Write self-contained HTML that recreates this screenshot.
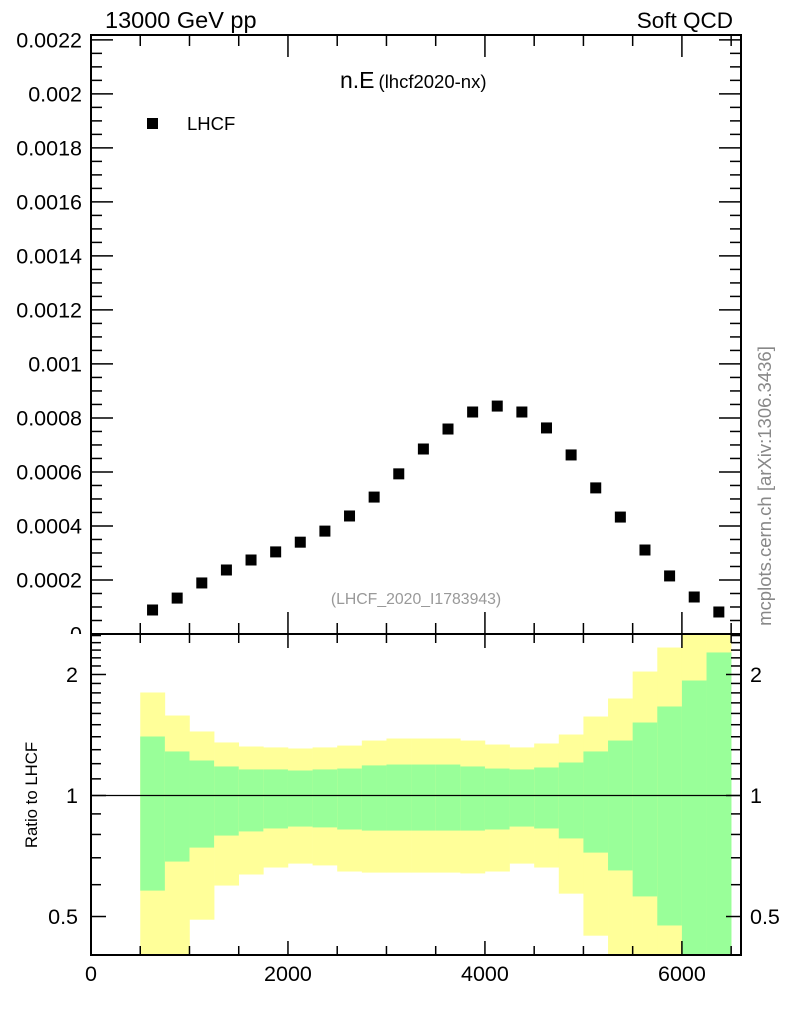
<!DOCTYPE html>
<html><head><meta charset="utf-8"><style>
body{margin:0;background:#fff;}
svg{display:block;font-family:"Liberation Sans",Arial,sans-serif;}
</style></head><body>
<svg id="chart" width="786" height="1024" viewBox="0 0 786 1024" xmlns="http://www.w3.org/2000/svg">
<defs>
<clipPath id="mainClip"><rect x="91" y="35" width="650" height="599"/></clipPath>
<clipPath id="ratioClip"><rect x="91" y="634" width="650" height="321"/></clipPath>
<clipPath id="labelClip"><rect x="0" y="0" width="91" height="634"/></clipPath>
</defs>
<g id="bands" clip-path="url(#ratioClip)"></g>
<g id="marks" clip-path="url(#mainClip)"></g>
<g id="axes"></g>
<text x="105" y="28" font-size="23.5">13000 GeV pp</text>
<text x="733" y="28" font-size="22.5" text-anchor="end">Soft QCD</text>
<text x="340" y="88" font-size="23">n.E<tspan font-size="18.5" dx="4">(lhcf2020-nx)</tspan></text>
<rect x="147" y="118" width="11" height="11" fill="#000"/>
<text x="187" y="130" font-size="18.5">LHCF</text>
<text x="416" y="604" font-size="15.8" fill="#999" text-anchor="middle">(LHCF_2020_I1783943)</text>
<text transform="translate(771,486) rotate(-90)" font-size="18.5" fill="#888" text-anchor="middle">mcplots.cern.ch [arXiv:1306.3436]</text>
<text transform="translate(37,795) rotate(-90)" font-size="16.8" text-anchor="middle">Ratio to LHCF</text>
</svg>
<script>
const binEdgesLow = [500,750,1000,1250,1500,1750,2000,2250,2500,2750,3000,3250,3500,3750,4000,4250,4500,4750,5000,5250,5500,5750,6000,6250];
const binWidth = 250;
const values = [0.0000889,0.000133,0.000189,0.000237,0.000274,0.000304,0.00034,0.000381,0.000437,0.000507,0.000593,0.000685,0.000759,0.000822,0.000844,0.000822,0.000763,0.000663,0.000541,0.000433,0.000311,0.000215,0.000137,0.0000815];
const yellowTop = [1.804,1.581,1.443,1.355,1.324,1.317,1.309,1.317,1.331,1.370,1.386,1.386,1.386,1.370,1.339,1.317,1.347,1.418,1.572,1.743,2.034,2.334,2.7,2.7];
const greenTop = [1.402,1.287,1.222,1.181,1.161,1.161,1.154,1.161,1.167,1.188,1.194,1.194,1.194,1.181,1.167,1.161,1.174,1.208,1.287,1.370,1.519,1.665,1.932,2.269];
const greenBot = [0.580,0.685,0.742,0.795,0.814,0.828,0.837,0.833,0.823,0.818,0.818,0.818,0.818,0.818,0.823,0.837,0.828,0.782,0.721,0.651,0.561,0.475,0.3,0.3];
const yellowBot = [0.3,0.3,0.491,0.597,0.636,0.662,0.677,0.670,0.647,0.643,0.643,0.643,0.643,0.640,0.647,0.677,0.662,0.570,0.448,0.3,0.3,0.3,0.3,0.3];
const xTickLabels = ["0","2000","4000","6000"];
const yTickLabels = ["0","0.0002","0.0004","0.0006","0.0008","0.001","0.0012","0.0014","0.0016","0.0018","0.002","0.0022"];
const ratioTickLabels = ["0.5","1","2"];

const NS="http://www.w3.org/2000/svg";
const L=91,R=741,T=35,MB=634,RB=955;
const XMAX=6600, YMAX=0.002218;
const sx=v=>L+v/XMAX*(R-L);
const sy=v=>MB-v/YMAX*(MB-T);
const sr=v=>795.5-Math.log10(v)*402;
function mk(tag,attrs,parent){const e=document.createElementNS(NS,tag);for(const k in attrs)e.setAttribute(k,attrs[k]);parent.appendChild(e);return e;}
const bands=document.getElementById('bands'),marks=document.getElementById('marks'),axes=document.getElementById('axes');

binEdgesLow.forEach((lo,i)=>{
  const x0=sx(lo),x1=sx(lo+binWidth);
  const y=mk('rect',{x:x0,y:sr(yellowTop[i]),width:x1-x0+0.3,height:sr(yellowBot[i])-sr(yellowTop[i]),fill:'#ffff99'},bands);
  
  
  const g=mk('rect',{x:x0,y:sr(greenTop[i]),width:x1-x0+0.3,height:sr(greenBot[i])-sr(greenTop[i]),fill:'#99ff99'},bands);
  
  
  const m=mk('rect',{x:sx(lo+binWidth/2)-5.5,y:sy(values[i])-5.5,width:11,height:11,fill:'#000'},marks);
  
  
});
mk('line',{x1:L,x2:R,y1:sr(1),y2:sr(1),stroke:'#000','stroke-width':1.2},axes);

mk('rect',{x:L,y:T,width:R-L,height:RB-T,fill:'none',stroke:'#000','stroke-width':2},axes);
mk('line',{x1:L,x2:R,y1:MB,y2:MB,stroke:'#000','stroke-width':2},axes);

for(let v=0;v<=XMAX;v+=500){
  const x=sx(v),maj=v%2000===0;
  const len=maj?22:11;
  mk('line',{x1:x,x2:x,y1:T,y2:T+len,stroke:'#000','stroke-width':1.5},axes);
  mk('line',{x1:x,x2:x,y1:MB,y2:MB-len,stroke:'#000','stroke-width':1.5},axes);
  mk('line',{x1:x,x2:x,y1:MB,y2:MB+(maj?14:9),stroke:'#000','stroke-width':1.5},axes);
  mk('line',{x1:x,x2:x,y1:RB,y2:RB-(maj?14:9),stroke:'#000','stroke-width':1.5},axes);
}
xTickLabels.forEach((s,i)=>{
  const t=mk('text',{x:sx(i*2000),y:981,'font-size':21.5,'text-anchor':'middle'},axes);t.textContent=s;
  
  
});
for(let k=0;k<=44;k++){
  const v=k*0.00005,y=sy(v);if(y<T-0.5)break;
  const maj=k%4===0,len=maj?22:11;
  mk('line',{x1:L,x2:L+len,y1:y,y2:y,stroke:'#000','stroke-width':1.5},axes);
  mk('line',{x1:R,x2:R-len,y1:y,y2:y,stroke:'#000','stroke-width':1.5},axes);
}
const lg=mk('g',{'clip-path':'url(#labelClip)'},axes);
yTickLabels.forEach((s,i)=>{
  const t=mk('text',{x:82,y:sy(i*0.0002)+7.5,'font-size':21.5,'text-anchor':'end'},lg);t.textContent=s;
  
  
});
const rt=[0.4,0.5,0.6,0.7,0.8,0.9,1,1.1,1.2,1.3,1.4,1.5,1.6,1.7,1.8,1.9,2,2.1,2.2,2.3,2.4,2.5];
rt.forEach(v=>{
  const y=sr(v);if(y<T||y>RB)return;
  const maj=(v===0.5||v===1||v===2),len=maj?15:10;
  mk('line',{x1:L,x2:L+len,y1:y,y2:y,stroke:'#000','stroke-width':1.5},axes);
  mk('line',{x1:R,x2:R-len,y1:y,y2:y,stroke:'#000','stroke-width':1.5},axes);
});
ratioTickLabels.forEach(s=>{
  const v=parseFloat(s);
  const a=mk('text',{x:78,y:sr(v)+7.5,'font-size':21.5,'text-anchor':'end'},axes);a.textContent=s;
  
  
  const b=mk('text',{x:750,y:sr(v)+7.5,'font-size':21.5},axes);b.textContent=s;
  
  
});
</script>
</body></html>
